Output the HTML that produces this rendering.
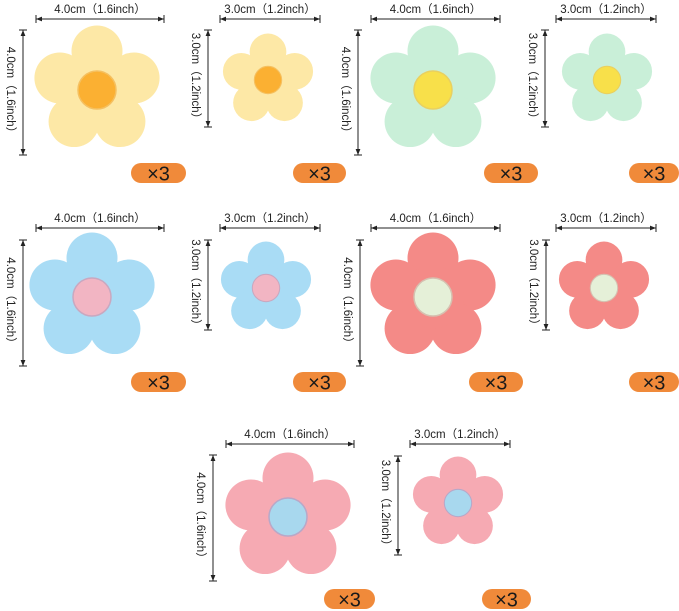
<!DOCTYPE html>
<html><head><meta charset="utf-8"><style>
html,body{margin:0;padding:0;background:#fff;}
svg{display:block}
text{font-family:"Liberation Sans","Noto Sans CJK SC",sans-serif;fill:#222;}
</style></head><body>
<svg id="s" width="679" height="611" viewBox="0 0 679 611" xmlns="http://www.w3.org/2000/svg">
<defs>
<marker id="a" viewBox="0 0 10 10" refX="10" refY="5" markerWidth="6" markerHeight="6" orient="auto-start-reverse"><path d="M0,1 L10,5 L0,9 z" fill="#222"/></marker>
</defs>
</svg>
<script>
var s=document.getElementById('s');var ns="http://www.w3.org/2000/svg";
function el(t,a,txt){var e=document.createElementNS(ns,t);for(var k in a)e.setAttribute(k,a[k]);if(txt)e.textContent=txt;s.appendChild(e);return e;}
function flower(cx,cy,sc,pc,cc,ring){
 var r=25.5*sc,d=39*sc;
 for(var i=0;i<5;i++){var an=(-90+72*i)*Math.PI/180;el('circle',{cx:cx+d*Math.cos(an),cy:cy+d*Math.sin(an),r:r,fill:pc});}
 el('circle',{cx:cx,cy:cy,r:d*0.8,fill:pc});
 el('circle',{cx:cx,cy:cy,r:19*sc,fill:cc,stroke:ring,'stroke-width':1.5*sc});
}
function hdim(x1,x2,y,t){el('line',{x1:x1,y1:y,x2:x2,y2:y,stroke:'#222','stroke-width':1,'marker-start':'url(#a)','marker-end':'url(#a)'});
 el('line',{x1:x1,y1:y-4,x2:x1,y2:y+4,stroke:'#222'});el('line',{x1:x2,y1:y-4,x2:x2,y2:y+4,stroke:'#222'});
 el('text',{x:(x1+x2)/2,y:y-6,'text-anchor':'middle','font-size':11.5},t);}
function vdim(x,y1,y2,t){el('line',{x1:x,y1:y1,x2:x,y2:y2,stroke:'#222','stroke-width':1,'marker-start':'url(#a)','marker-end':'url(#a)'});
 el('line',{x1:x-4,y1:y1,x2:x+4,y2:y1,stroke:'#222'});el('line',{x1:x-4,y1:y2,x2:x+4,y2:y2,stroke:'#222'});
 el('text',{x:0,y:0,'text-anchor':'middle','font-size':11.5,transform:'translate('+(x-16)+','+((y1+y2)/2)+') rotate(90)'},t);}
function badge(x,y,w){el('rect',{x:x,y:y,width:w,height:20,rx:10,fill:'#f08a3a'});
 el('text',{x:x+w/2,y:y+17.5,'text-anchor':'middle','font-size':20,style:'fill:#1a1a1a'},'×3');}
var B='4.0cm（1.6inch）',S='3.0cm（1.2inch）';
flower(97,90,1.0,'#fde8a6','#fbb032','#f5c060');hdim(36,164,19,B);vdim(23,30,155,B);badge(131,163,55);
flower(268,80,0.72,'#fde8a6','#fbb032','#f5c060');hdim(220,320,19,S);vdim(208,30,127,S);badge(293,163,53);
flower(433,90,1.0,'#c9efd8','#f8e04a','#e9d060');hdim(371,500,19,B);vdim(358,30,155,B);badge(484,163,54);
flower(607,80,0.72,'#c9efd8','#f8e04a','#e9d060');hdim(556,656,19,S);vdim(545,30,127,S);badge(629,163,50);
flower(92,297,1.0,'#a9dcf5','#f2b5c3','#c9a8c0');hdim(36,164,228,B);vdim(23,240,366,B);badge(131,372,55);
flower(266,288,0.72,'#a9dcf5','#f2b5c3','#c9a8c0');hdim(220,320,228,S);vdim(208,240,330,S);badge(293,372,53);
flower(433,297,1.0,'#f48a87','#e5f0d8','#d6c0b0');hdim(371,500,228,B);vdim(360,240,366,B);badge(469,372,54);
flower(604,288,0.72,'#f48a87','#e5f0d8','#d6c0b0');hdim(556,656,228,S);vdim(546,240,330,S);badge(629,372,50);
flower(288,517,1.0,'#f6aab3','#a8d8ee','#b8a8c8');hdim(226,354,444,B);vdim(213,455,581,B);badge(324,589,51);
flower(458,503,0.72,'#f6aab3','#a8d8ee','#b8a8c8');hdim(410,510,444,S);vdim(398,456,555,S);badge(482,589,49);
</script>
</body></html>
